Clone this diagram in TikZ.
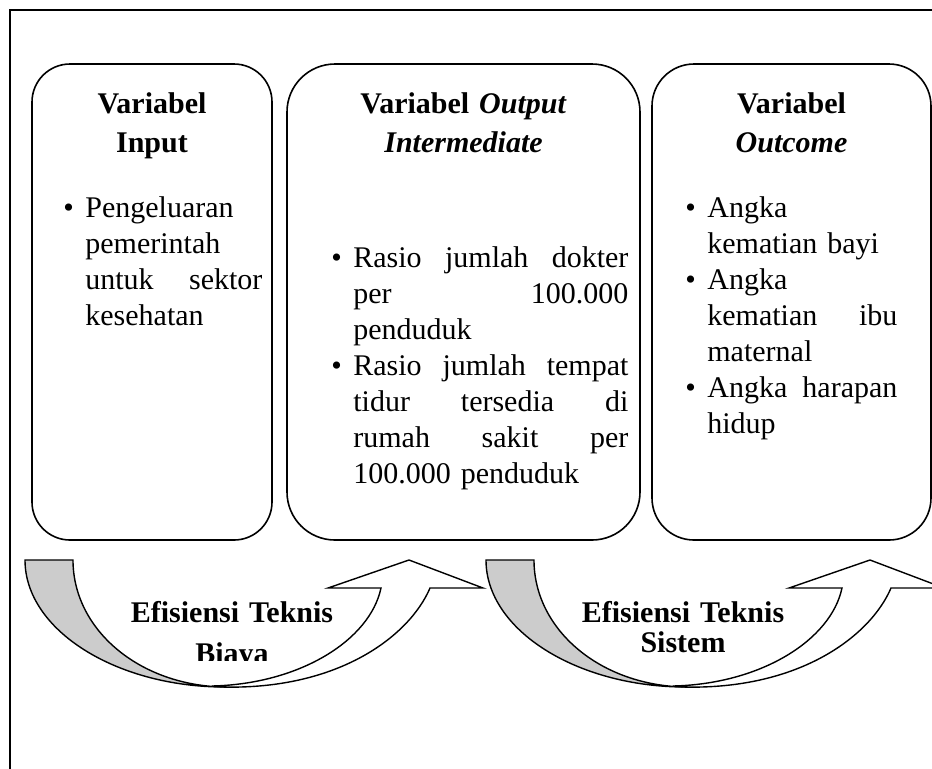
\documentclass[tikz,border=0pt]{standalone}
\usepackage{fontspec}
\setmainfont{Liberation Serif}
\newcommand{\bitem}[1]{\hangindent=11pt\hangafter=1\makebox[11pt][l]{\textbullet}#1\par}

\begin{document}
\begin{tikzpicture}[x=0.5pt, y=-0.5pt,
	every node/.style={font=\fontsize{15}{18}\selectfont, inner sep=0pt},
	varbox/.style={draw, line width=0.8pt, rounded corners=20pt, minimum height=238pt},
	heading/.style={font=\fontsize{15}{19.5}\selectfont\bfseries, align=center, anchor=base},
	itemlist/.style={align=left, anchor=base west},
	backband/.style={draw, line width=0.7pt, fill=gray!40},
	frontband/.style={draw, line width=0.7pt, fill=white}]
	\clip (0,0) rectangle (932,768);
	\draw[line width=1pt] (10,790) -- (10,10) -- (950,10);
	% the three groups of variables
	\node[varbox, minimum width=120pt, rounded corners=19pt] (input) at (152,302) {};
	\node[varbox, minimum width=176.5pt, rounded corners=24pt] (output) at (463.5,302) {};
	\node[varbox, minimum width=139.5pt, rounded corners=21pt] (outcome) at (791.5,302) {};
	\node[heading, text width=120pt] (inputhead) at (152,113) {Variabel\\Input};
	\node[heading, text width=176pt] (outputhead) at (463.5,113) {Variabel \textit{Output}\\\textit{Intermediate}};
	\node[heading, text width=139pt] (outcomehead) at (791.5,113) {Variabel\\\textit{Outcome}};
	\node[itemlist, text width=99.5pt] (inputlist) at (63,217) {%
		\bitem{Pengeluaran\newline pemerintah\newline untuk\hfill sektor\newline kesehatan}};
	\node[itemlist, text width=148.5pt] (outputlist) at (331,267) {%
		\bitem{Rasio\hfill jumlah\hfill dokter\newline per\hfill 100.000\newline penduduk}%
		\bitem{Rasio\hfill jumlah\hfill tempat\newline tidur\hfill tersedia\hfill di\newline rumah\hfill sakit\hfill per\newline 100.000 penduduk}};
	\node[itemlist, text width=106pt] (outcomelist) at (685,217) {%
		\bitem{Angka\newline kematian bayi}%
		\bitem{Angka\newline kematian\hfill ibu\newline maternal}%
		\bitem{Angka\hfill harapan\newline hidup}};
	% curved arrows between the groups
	\foreach \dx in {0,461}{
		\begin{scope}[shift={(\dx,0)}]
			\draw[backband] (25,560) -- (73,560) .. controls (73,630) and (140,686) .. (225,687)
				.. controls (116,687) and (25,630) .. (25,560) -- cycle;
			\draw[frontband] (222,687) .. controls (340,690) and (410,635) .. (430,588)
				-- (483,588) -- (409,560) -- (328,588) -- (381,588)
				.. controls (370,640) and (300,684) .. (212,686) -- cycle;
		\end{scope}
	}
	\begin{scope}
		\clip (100,560) rectangle (360,660);
		\node[heading, font=\fontsize{15}{20.5}\selectfont\bfseries, text width=120pt] (biaya) at (232,622) {Efisiensi Teknis\\Biaya};
	\end{scope}
	\node[heading, font=\fontsize{15}{15}\selectfont\bfseries, text width=120pt] (sistem) at (683,622) {Efisiensi Teknis\\Sistem};
\end{tikzpicture}
\end{document}
